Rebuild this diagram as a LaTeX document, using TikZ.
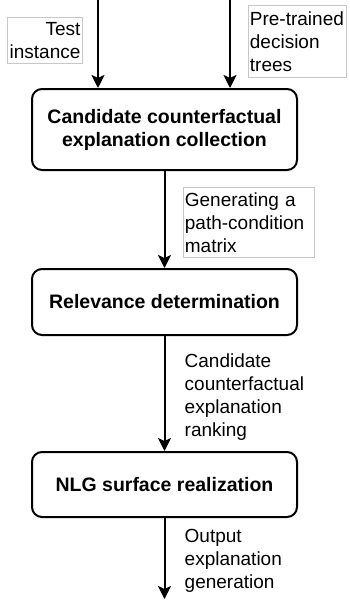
\documentclass[tikz,border=0pt]{standalone}
\usepackage{fontspec}
\setmainfont{Liberation Sans}
\usetikzlibrary{arrows.meta}
\newcommand\notefont{\fontsize{19}{23}\selectfont}
\begin{document}
\begin{tikzpicture}[x=1pt,y=-1pt,
  stage/.style={draw=black, line width=2pt, rounded corners=10pt,
    minimum width=265pt, align=center,
    font=\fontsize{19.5}{23}\selectfont\bfseries},
  note/.style={inner xsep=1.5pt, inner ysep=5pt, font=\notefont},
  framed/.style={note, draw=black!22, line width=0.8pt},
  flow/.style={line width=2pt, -{Stealth[length=13pt, width=13pt, inset=3pt]}}
]
\useasboundingbox (0,0) rectangle (349,602);

% processing stages
\node[stage, minimum height=81pt] (b1) at (164.5,129.5)
  {Candidate counterfactual\\explanation collection};
\node[stage, minimum height=66pt] (b2) at (164.5,302)
  {Relevance determination};
\node[stage, minimum height=65pt] (b3) at (164.5,484.5)
  {NLG surface realization};

% inputs and output
\coordinate (tin) at (98,0);
\coordinate (trees) at (230,0);
\coordinate (out) at (164.5,599);

\draw[flow] (tin) -- (tin |- b1.north);
\draw[flow] (trees) -- (trees |- b1.north);
\draw[flow] (b1.south) -- (b2.north);
\draw[flow] (b2.south) -- (b3.north);
\draw[flow] (b3.south) -- (out);

% annotations (font also set inside the fixed-width boxes)
\node[framed, anchor=north west, text width=71.5pt, align=right] (lti) at (7,17)
  {\notefont Test\\instance};
\node[framed, inner ysep=6pt, anchor=north west, text width=95pt, align=left] (ltr) at (248,5)
  {\notefont Pre-trained\\decision\\trees};
\node[framed, anchor=north west, text width=128pt, align=left] (lgen) at (183,187)
  {\notefont Generating a\\path-condition\\matrix};
\node[note, anchor=north west, align=left] (lrank) at (183,348.5)
  {Candidate\\counterfactual\\explanation\\ranking};
\node[note, anchor=north west, align=left] (lout) at (183,524.5)
  {Output\\explanation\\generation};
\end{tikzpicture}
\end{document}
